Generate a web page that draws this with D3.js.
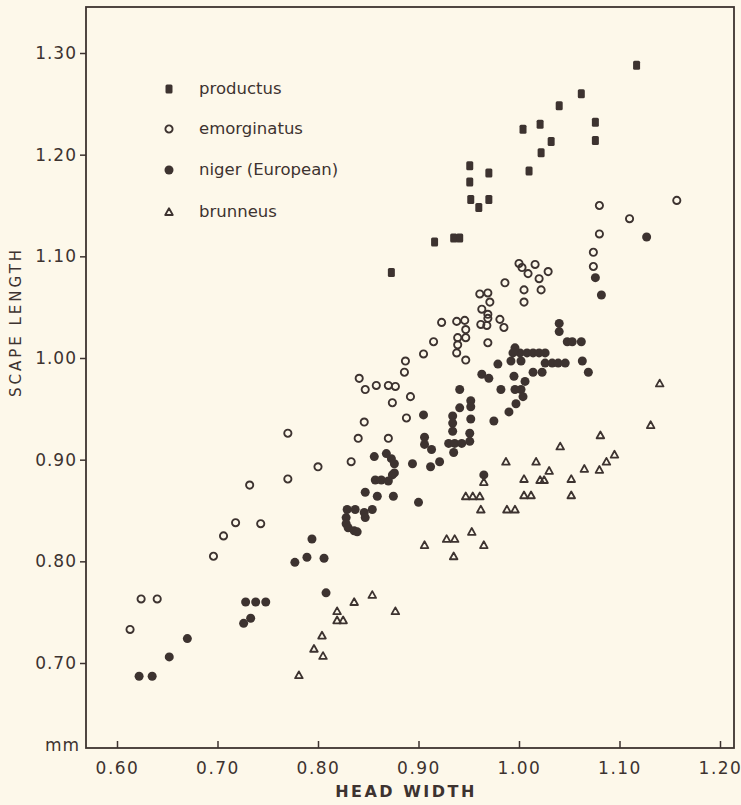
<!DOCTYPE html>
<html>
<head>
<meta charset="utf-8">
<script src="https://cdn.jsdelivr.net/npm/d3@7"></script>
<style>
  html, body { margin: 0; padding: 0; background: #fdf8ea; }
  svg { display: block; }
  text { font-family: "DejaVu Sans", sans-serif; fill: #3d3330; }
</style>
</head>
<body>
<svg id="chart" width="741" height="805"></svg>
<script>
// ---------- data ----------
const xTickValues = [0.60, 0.70, 0.80, 0.90, 1.00, 1.10, 1.20];
const yTickValues = [0.70, 0.80, 0.90, 1.00, 1.10, 1.20, 1.30];
const seriesNames = ["productus", "emorginatus", "niger (European)", "brunneus"];

// [head width, scape length]
const productus = [
  [1.117,1.288],[1.062,1.260],[1.040,1.248],[1.004,1.225],[1.021,1.230],[1.032,1.213],
  [1.022,1.202],[1.010,1.184],[1.076,1.232],[1.076,1.214],[0.951,1.189],[0.951,1.173],
  [0.970,1.182],[0.952,1.156],[0.970,1.156],[0.960,1.148],[0.935,1.118],[0.941,1.118],
  [0.916,1.114],[0.873,1.084]
];

const emorginatus = [
  [1.080,1.150],[1.110,1.137],[1.157,1.155],[1.080,1.122],[1.074,1.104],[1.074,1.090],
  [1.000,1.093],[1.003,1.089],[1.016,1.092],[1.009,1.083],[1.020,1.078],[1.029,1.085],
  [0.986,1.074],[1.005,1.067],[1.022,1.067],[1.005,1.055],
  [0.961,1.063],[0.969,1.064],[0.971,1.055],[0.963,1.048],[0.969,1.043],[0.969,1.039],
  [0.962,1.033],[0.968,1.032],[0.981,1.038],[0.985,1.030],
  [0.923,1.035],[0.938,1.036],[0.946,1.037],[0.947,1.028],[0.939,1.020],[0.947,1.020],
  [0.939,1.013],[0.938,1.005],[0.947,0.998],[0.915,1.016],[0.905,1.004],[0.969,1.015],
  [0.887,0.997],[0.886,0.986],[0.841,0.980],[0.847,0.969],[0.858,0.973],[0.870,0.973],
  [0.877,0.972],[0.874,0.956],[0.892,0.962],[0.846,0.937],[0.888,0.941],[0.770,0.926],
  [0.840,0.921],[0.870,0.921],[0.800,0.893],[0.833,0.898],[0.770,0.881],[0.732,0.875],
  [0.743,0.837],[0.718,0.838],[0.706,0.825],[0.696,0.805],[0.624,0.763],[0.640,0.763],
  [0.613,0.733]
];

const niger = [
  [1.076,1.079],[1.082,1.062],[1.127,1.119],[1.040,1.034],[1.040,1.026],
  [1.048,1.016],[1.053,1.016],[1.062,1.016],[1.063,0.997],[1.069,0.986],
  [1.026,0.995],[1.033,0.995],[1.039,0.995],[1.046,0.995],
  [1.001,1.005],[1.008,1.005],[1.014,1.005],[1.020,1.005],[1.026,1.005],
  [0.996,1.010],[0.994,1.005],[0.992,0.997],[1.002,0.997],[0.979,0.994],
  [0.963,0.984],[0.970,0.980],[0.995,0.982],[1.014,0.986],[1.023,0.986],
  [1.006,0.977],[1.002,0.969],[0.996,0.969],[1.004,0.962],[0.982,0.969],
  [0.997,0.955],[0.990,0.947],[0.975,0.938],
  [0.941,0.969],[0.952,0.958],[0.952,0.952],[0.941,0.951],[0.952,0.940],
  [0.934,0.943],[0.934,0.936],[0.934,0.928],[0.905,0.944],[0.951,0.926],[0.951,0.918],
  [0.906,0.922],[0.906,0.915],[0.913,0.910],[0.930,0.916],[0.936,0.916],[0.943,0.916],
  [0.935,0.907],[0.965,0.885],[0.921,0.898],[0.912,0.893],[0.894,0.896],
  [0.856,0.903],[0.868,0.906],[0.873,0.901],[0.876,0.896],[0.876,0.887],[0.874,0.885],
  [0.857,0.880],[0.863,0.880],[0.870,0.879],[0.847,0.868],[0.859,0.864],[0.875,0.864],
  [0.900,0.858],
  [0.829,0.851],[0.837,0.851],[0.828,0.843],[0.828,0.837],[0.830,0.833],[0.836,0.830],
  [0.839,0.829],[0.846,0.848],[0.854,0.851],[0.847,0.843],
  [0.794,0.822],[0.777,0.799],[0.789,0.804],[0.806,0.803],[0.808,0.769],
  [0.728,0.760],[0.738,0.760],[0.748,0.760],[0.726,0.739],[0.733,0.744],
  [0.670,0.724],[0.652,0.706],[0.622,0.687],[0.635,0.687]
];

const brunneus = [
  [1.140,0.975],[1.131,0.934],[1.081,0.924],[1.041,0.913],[1.095,0.905],[1.087,0.898],
  [1.065,0.891],[1.080,0.890],[1.030,0.889],[1.017,0.898],[0.987,0.898],[1.005,0.881],
  [1.021,0.880],[1.025,0.880],[1.052,0.881],[1.005,0.865],[1.012,0.865],[1.052,0.865],
  [0.947,0.864],[0.954,0.864],[0.961,0.864],[0.962,0.851],[0.988,0.851],[0.996,0.851],
  [0.953,0.829],[0.928,0.822],[0.936,0.822],[0.906,0.816],[0.965,0.816],[0.935,0.805],
  [0.965,0.878],
  [0.854,0.767],[0.836,0.760],[0.877,0.751],[0.819,0.751],[0.819,0.742],[0.825,0.742],
  [0.804,0.727],[0.796,0.714],[0.805,0.707],[0.781,0.688]
];

// ---------- layout ----------
const ink = "#3d3330";
const frame = { left: 86, right: 734, top: 7, bottom: 748 };

const svg = d3.select("#chart");

const x = d3.scaleLinear().domain([0.60, 1.20]).range([117, 720]);
const y = d3.scaleLinear().domain([0.70, 1.30]).range([663, 53]);

// frame box
svg.append("rect")
  .attr("x", frame.left).attr("y", frame.top)
  .attr("width", frame.right - frame.left)
  .attr("height", frame.bottom - frame.top)
  .attr("fill", "none").attr("stroke", ink).attr("stroke-width", 1.8);

// x axis (ticks pointing inward)
const xAxis = svg.append("g")
  .attr("transform", `translate(0,${frame.bottom})`)
  .call(d3.axisBottom(x).tickValues(xTickValues).tickFormat(d3.format(".2f"))
    .tickSizeInner(-7).tickSizeOuter(0).tickPadding(10));
xAxis.select(".domain").remove();
xAxis.selectAll(".tick line").attr("stroke", ink).attr("stroke-width", 1.5);
xAxis.selectAll(".tick text")
  .attr("font-size", 17).attr("letter-spacing", 1.5)
  .attr("font-family", "DejaVu Sans, sans-serif").attr("fill", ink)
  .attr("dy", "0.95em");

// y axis (ticks pointing outward)
const yAxis = svg.append("g")
  .attr("transform", `translate(${frame.left},0)`)
  .call(d3.axisLeft(y).tickValues(yTickValues).tickFormat(d3.format(".2f"))
    .tickSizeInner(6).tickSizeOuter(0).tickPadding(3));
yAxis.select(".domain").remove();
yAxis.selectAll(".tick line").attr("stroke", ink).attr("stroke-width", 1.5);
yAxis.selectAll(".tick text")
  .attr("font-size", 17).attr("letter-spacing", 1)
  .attr("font-family", "DejaVu Sans, sans-serif").attr("fill", ink);

// unit label
svg.append("text").attr("x", 80).attr("y", 751).attr("text-anchor", "end")
  .attr("font-size", 17).attr("letter-spacing", 1).text("mm");

// axis titles
svg.append("text").attr("x", 406).attr("y", 797).attr("text-anchor", "middle")
  .attr("font-size", 16).attr("font-weight", "bold").attr("letter-spacing", 2.5)
  .text("HEAD WIDTH");
svg.append("text")
  .attr("transform", "translate(21,322) rotate(-90)")
  .attr("text-anchor", "middle").attr("font-size", 15).attr("letter-spacing", 3)
  .text("SCAPE LENGTH");

// ---------- markers ----------
function drawSquare(sel) {
  sel.append("rect").attr("x", -3.5).attr("y", -4.5).attr("width", 7).attr("height", 9)
    .attr("rx", 1.5).attr("fill", ink);
}
function drawOpen(sel) {
  sel.append("circle").attr("r", 3.6).attr("fill", "none").attr("stroke", ink).attr("stroke-width", 1.9);
}
function drawFilled(sel) {
  sel.append("circle").attr("r", 4.5).attr("fill", ink);
}
function drawTri(sel) {
  sel.append("path").attr("d", "M0,-3.8 L3.8,3 L-3.8,3 Z")
    .attr("fill", "none").attr("stroke", ink).attr("stroke-width", 1.8).attr("stroke-linejoin", "round");
}
const drawers = [drawSquare, drawOpen, drawFilled, drawTri];
const datasets = [productus, emorginatus, niger, brunneus];

datasets.forEach((data, i) => {
  svg.append("g").selectAll("g").data(data).join("g")
    .attr("transform", d => `translate(${x(d[0])},${y(d[1])})`)
    .call(drawers[i]);
});

// ---------- legend ----------
const legendY = [89, 129, 170, 212];
seriesNames.forEach((name, i) => {
  const g = svg.append("g").attr("transform", `translate(169,${legendY[i]})`);
  drawers[i](g);
  svg.append("text").attr("x", 199).attr("y", legendY[i]).attr("dy", "0.32em")
    .attr("font-size", 16.5).text(name);
});
</script>
</body>
</html>
